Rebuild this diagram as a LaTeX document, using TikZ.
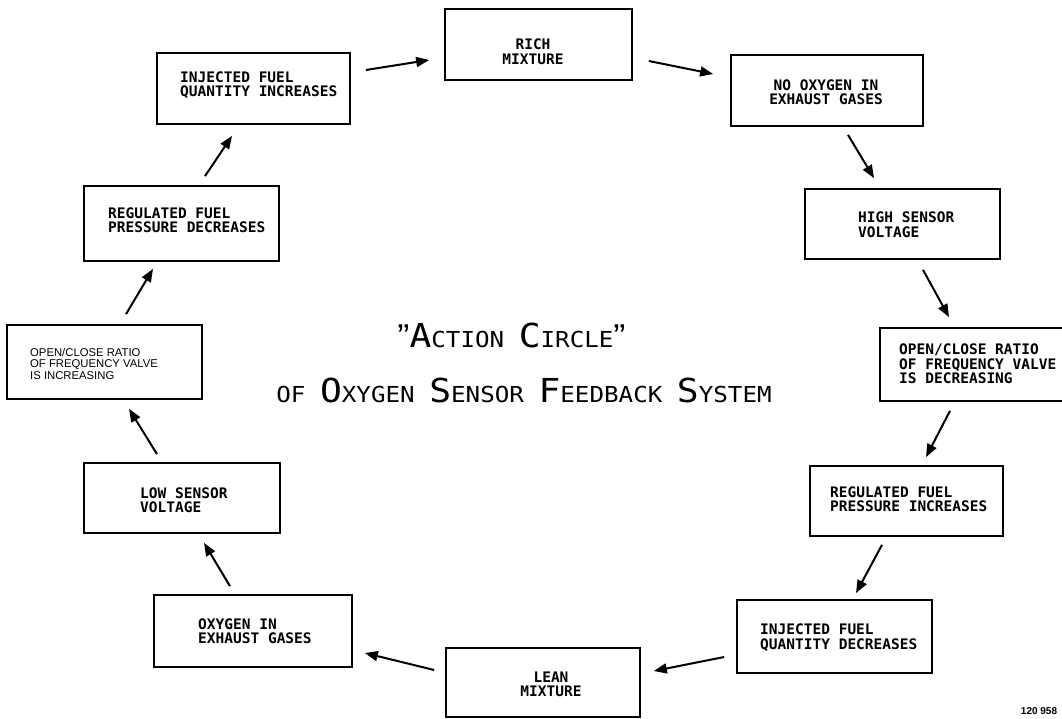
\documentclass[tikz,border=0pt]{standalone}
\usepackage{graphicx}
\usepackage{fontspec}
\setmainfont{DejaVu Sans Mono}
\newfontfamily\letterfont{DejaVu Sans Mono}
\newfontfamily\helvfont{Liberation Sans}
\usetikzlibrary{arrows.meta}
\newcommand{\tbig}[1]{{\fontsize{33pt}{33pt}\selectfont #1}}
\newcommand{\tquote}{{\helvfont\fontsize{33pt}{33pt}\selectfont ”}}
\tikzset{
  box/.style={draw, line width=1.7pt, inner sep=0pt, rectangle},
  txt/.style={font=\letterfont\bfseries\fontsize{14.5pt}{14.5pt}\selectfont, inner sep=0pt, align=left, anchor=west},
  ctxt/.style={font=\letterfont\bfseries\fontsize{14.5pt}{14.5pt}\selectfont, inner sep=0pt, align=center},
  htxt/.style={font=\helvfont\fontsize{11.3pt}{11.5pt}\selectfont, inner sep=0pt, align=left, anchor=west},
  arr/.style={line width=2pt, -{Triangle[length=13pt,width=10pt]}},
}
\begin{document}
\begin{tikzpicture}[x=1pt,y=-1pt]
\clip (0,0) rectangle (1062,719);
\fill[white] (0,0) rectangle (1062,719);
% boxes
\node[box, minimum width=187pt, minimum height=71pt] (b1) at (538.5,44.5) {};
\node[box, minimum width=192pt, minimum height=71pt] (b2) at (827,90.5) {};
\node[box, minimum width=195pt, minimum height=70pt] (b3) at (902.5,224) {};
\node[box, minimum width=195pt, minimum height=73pt] (b4) at (977.5,364.5) {};
\node[box, minimum width=193pt, minimum height=70pt] (b5) at (906.5,501) {};
\node[box, minimum width=195pt, minimum height=73pt] (b6) at (834.5,636.5) {};
\node[box, minimum width=194pt, minimum height=69pt] (b7) at (543,682.5) {};
\node[box, minimum width=198pt, minimum height=72pt] (b8) at (253,631) {};
\node[box, minimum width=196pt, minimum height=70pt] (b9) at (182,498) {};
\node[box, minimum width=195pt, minimum height=74pt] (b10) at (104.5,362) {};
\node[box, minimum width=195pt, minimum height=75pt] (b11) at (181.5,223.5) {};
\node[box, minimum width=193pt, minimum height=71pt] (b12) at (253.5,88.5) {};
% texts
\node[ctxt] (t1) at (533,51.5) {RICH\\MIXTURE};
\node[ctxt] (t2) at (826,92) {NO OXYGEN IN\\EXHAUST GASES};
\node[txt] (t3) at (858,224.5) {HIGH SENSOR\\VOLTAGE};
\node[txt] (t4) at (899,364) {OPEN/CLOSE RATIO\\OF FREQUENCY VALVE\\IS DECREASING};
\node[txt] (t5) at (830,499) {REGULATED FUEL\\PRESSURE INCREASES};
\node[txt] (t6) at (760,637.5) {INJECTED FUEL\\QUANTITY DECREASES};
\node[ctxt] (t7) at (551,684.5) {LEAN\\MIXTURE};
\node[txt] (t8) at (198,631) {OXYGEN IN\\EXHAUST GASES};
\node[txt] (t9) at (140,500) {LOW SENSOR\\VOLTAGE};
\node[htxt] (t10) at (30,363.5) {OPEN/CLOSE RATIO\\OF FREQUENCY VALVE\\IS INCREASING};
\node[txt] (t11) at (108,220) {REGULATED FUEL\\PRESSURE DECREASES};
\node[txt] (t12) at (180,85) {INJECTED FUEL\\QUANTITY INCREASES};
% arrows
\draw[arr] ([shift={(15,-18.5)}]b12.east) -- ([shift={(-15,15.5)}]b1.west);
\draw[arr] ([shift={(16,16.5)}]b1.east) -- ([shift={(-17,-16.5)}]b2.west);
\draw[arr] ([shift={(21,8)}]b2.south) -- ([shift={(-28.5,-10)}]b3.north);
\draw[arr] ([shift={(20.5,10)}]b3.south) -- ([shift={(-28.5,-10)}]b4.north);
\draw[arr] ([shift={(-27.5,9)}]b4.south) -- ([shift={(19.5,-8)}]b5.north);
\draw[arr] ([shift={(-24.5,8)}]b5.south) -- ([shift={(21.5,-6)}]b6.north);
\draw[arr] ([shift={(-12,20.5)}]b6.west) -- ([shift={(13,-11.5)}]b7.east);
\draw[arr] ([shift={(-11,-12.5)}]b7.west) -- ([shift={(12,22)}]b8.east);
\draw[arr] ([shift={(-23,-8)}]b8.north) -- ([shift={(22,9)}]b9.south);
\draw[arr] ([shift={(-25,-8)}]b9.north) -- ([shift={(24.5,9)}]b10.south);
\draw[arr] ([shift={(21.5,-10)}]b10.north) -- ([shift={(-28.5,7)}]b11.south);
\draw[arr] ([shift={(23.5,-9)}]b11.north) -- ([shift={(-21.5,11)}]b12.south);
% title
\node[anchor=base, inner sep=0pt] (title1) at (511.5,347) {\scalebox{1.1}[1]{\letterfont\fontsize{22pt}{22pt}\selectfont\tquote\tbig{A}CTION \tbig{C}IRCLE\tquote}};
\node[anchor=base, inner sep=0pt] (title2) at (524,402) {\scalebox{1.1}[1]{\letterfont\fontsize{22pt}{22pt}\selectfont OF \tbig{O}XYGEN \tbig{S}ENSOR \tbig{F}EEDBACK \tbig{S}YSTEM}};
% figure number
\node[font=\helvfont\bfseries\fontsize{10pt}{10pt}\selectfont, inner sep=0pt] (fignum) at (1039,711) {120 958};
\end{tikzpicture}
\end{document}
